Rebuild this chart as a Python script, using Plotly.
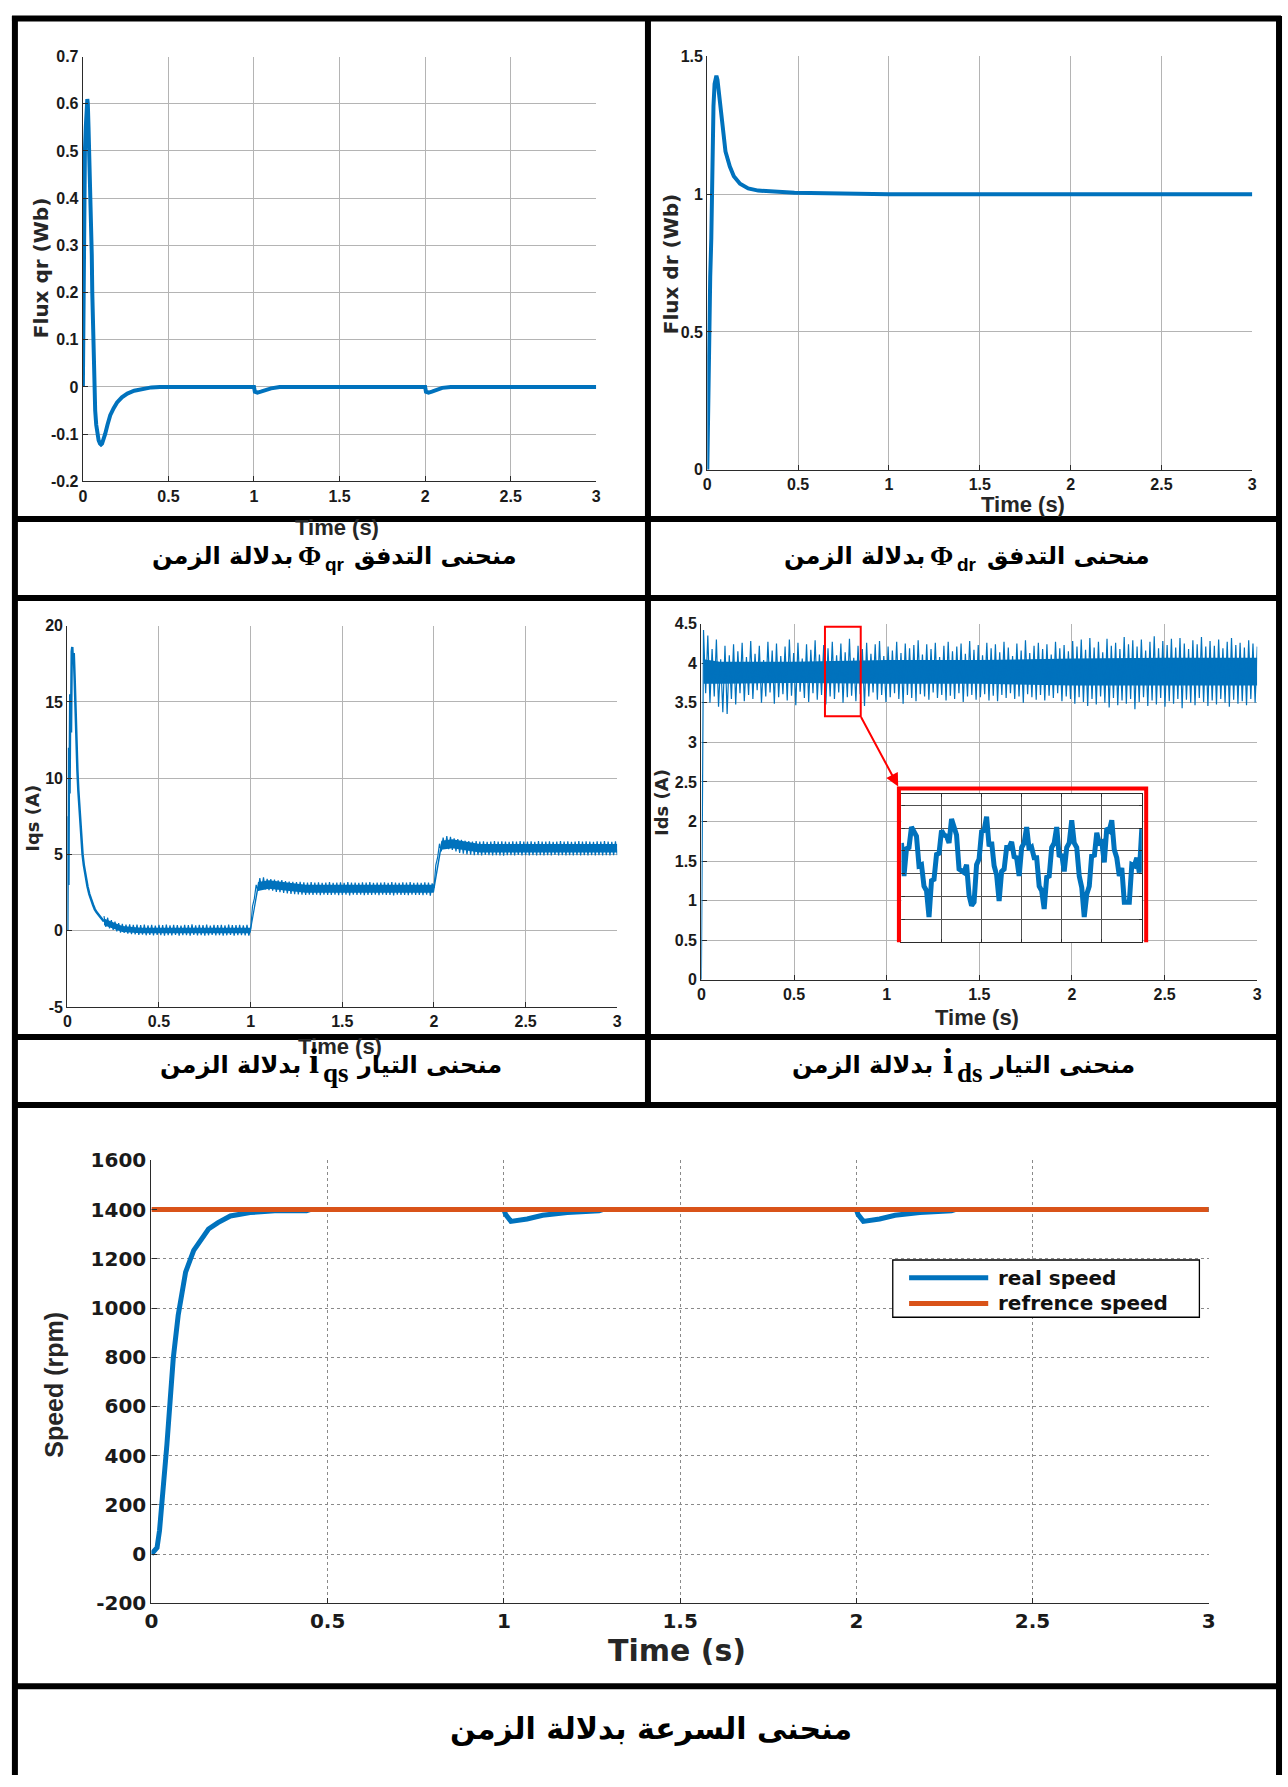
import numpy as np
import plotly.graph_objects as go

W, H = 1288, 1787
BLUE = "#0072BD"
ORANGE = "#D95319"
RED = "#FF0000"
NARROW = "Liberation Sans Narrow, Arial Narrow, Liberation Sans, Arial, sans-serif"
WIDE = "DejaVu Sans, Verdana, sans-serif"
AR = "DejaVu Sans, Noto Sans, sans-serif"
SERIF = "Liberation Serif, Times New Roman, serif"
SANS = "Liberation Sans, Arial, sans-serif"

# ---------------- data ----------------
# tick labels that use a plain hyphen minus, as in the original
fqr_tickvals = [-0.2, -0.1, 0, 0.1, 0.2, 0.3, 0.4, 0.5, 0.6, 0.7]
fqr_ticktext = ["-0.2", "-0.1", "0", "0.1", "0.2", "0.3", "0.4", "0.5", "0.6", "0.7"]
iqs_tickvals = [-5, 0, 5, 10, 15, 20]
iqs_ticktext = ["-5", "0", "5", "10", "15", "20"]
spd_tickvals = [-200, 0, 200, 400, 600, 800, 1000, 1200, 1400, 1600]
spd_ticktext = ["-200", "0", "200", "400", "600", "800", "1000", "1200", "1400", "1600"]

# Flux qr (Wb)
fqr_t = [0, 0.004, 0.007, 0.012, 0.017, 0.022, 0.026, 0.029, 0.033, 0.037, 0.041, 0.045, 0.048,
         0.052, 0.055, 0.059, 0.062, 0.067, 0.072, 0.078, 0.084, 0.092, 0.1, 0.106, 0.112, 0.12,
         0.13, 0.144, 0.16, 0.18, 0.2, 0.228, 0.26, 0.3, 0.35, 0.4, 0.45, 1.0, 1.005, 1.02, 1.04,
         1.07, 1.1, 1.15, 2.0, 2.005, 2.02, 2.04, 2.07, 2.1, 2.15, 3.0]
fqr_v = [0, 0.2, 0.39, 0.5, 0.55, 0.58, 0.61, 0.6, 0.55, 0.5, 0.45, 0.42, 0.36, 0.28, 0.2, 0.12,
         0.05, -0.01, -0.05, -0.08, -0.1, -0.113, -0.12, -0.122, -0.12, -0.112, -0.1, -0.08, -0.06,
         -0.045, -0.033, -0.022, -0.014, -0.008, -0.004, -0.001, 0, 0, -0.01, -0.012, -0.01, -0.006,
         -0.003, 0, 0, -0.01, -0.012, -0.01, -0.005, -0.002, 0, 0]

# Flux dr (Wb)
fdr_t = [0, 0.004, 0.007, 0.011, 0.016, 0.022, 0.027, 0.034, 0.04, 0.05, 0.056, 0.068, 0.079,
         0.09, 0.1, 0.124, 0.146, 0.18, 0.225, 0.28, 0.37, 0.48, 1.0, 1.5, 2.0, 2.5, 3.0]
fdr_v = [0, 0.22, 0.43, 0.55, 0.70, 0.84, 1.09, 1.32, 1.40, 1.43, 1.415, 1.35, 1.28, 1.21, 1.155,
         1.10, 1.065, 1.038, 1.021, 1.013, 1.008, 1.005, 1.0, 1.0, 1.0, 1.0, 1.0]

# Iqs (A): start-up transient
iqs_start_t = [0, 0.003, 0.006, 0.009, 0.012, 0.016, 0.02, 0.024, 0.027, 0.031, 0.035, 0.04,
               0.045, 0.05, 0.055, 0.06, 0.067, 0.075, 0.083, 0.09, 0.1, 0.11, 0.12, 0.13, 0.14,
               0.15, 0.16, 0.18, 0.2]
iqs_start_v = [0, 7.5, 3, 12, 9, 15.5, 13, 18.3, 18.6, 17.5, 18.2, 16.5, 14, 12.2, 10.5, 9.2,
               7.8, 6.3, 5.0, 4.3, 3.5, 2.9, 2.4, 2.0, 1.7, 1.4, 1.2, 0.9, 0.6]
# Iqs (A): ripple samples every 0.01 s from 0.20 s to 3.00 s
iqs_v = [
    0.95, 0.25, 0.85, 0.15, 0.70, 0.05, 0.60, -0.05, 0.50, -0.12,
    0.45, -0.15, 0.40, -0.20, 0.42, -0.22, 0.38, -0.25, 0.40, -0.28,
    0.36, -0.26, 0.40, -0.30, 0.35, -0.28, 0.38, -0.31, 0.34, -0.27,
    0.39, -0.30, 0.36, -0.32, 0.40, -0.29, 0.35, -0.31, 0.38, -0.27,
    0.37, -0.33, 0.34, -0.29, 0.39, -0.30, 0.36, -0.32, 0.41, -0.28,
    0.35, -0.31, 0.38, -0.29, 0.36, -0.33, 0.40, -0.30, 0.34, -0.28,
    0.39, -0.31, 0.36, -0.29, 0.38, -0.32, 0.35, -0.30, 0.40, -0.28,
    0.37, -0.33, 0.36, -0.30, 0.39, -0.29, 0.35, -0.31, 0.38, -0.32,
    0.10, 1.60, 2.10, 3.00, 2.60, 3.45, 2.75, 3.50, 2.70, 3.40,
    2.65, 3.38, 2.62, 3.35, 2.55, 3.30, 2.52, 3.32, 2.48, 3.25,
    2.45, 3.22, 2.42, 3.20, 2.40, 3.18, 2.38, 3.20, 2.36, 3.17,
    2.35, 3.16, 2.37, 3.18, 2.34, 3.15, 2.36, 3.17, 2.33, 3.14,
    2.36, 3.16, 2.34, 3.18, 2.35, 3.13, 2.37, 3.15, 2.33, 3.17,
    2.35, 3.14, 2.36, 3.18, 2.32, 3.15, 2.37, 3.16, 2.34, 3.13,
    2.36, 3.17, 2.33, 3.15, 2.35, 3.18, 2.34, 3.14, 2.37, 3.16,
    2.33, 3.15, 2.36, 3.17, 2.34, 3.13, 2.35, 3.18, 2.32, 3.16,
    2.36, 3.14, 2.34, 3.17, 2.35, 3.15, 2.33, 3.18, 2.36, 3.14,
    2.34, 3.16, 2.35, 3.13, 2.33, 3.17, 2.36, 3.15, 2.30, 3.10,
    2.80, 4.30, 4.80, 5.70, 5.20, 6.10, 5.40, 6.20, 5.35, 6.15,
    5.30, 6.05, 5.20, 6.00, 5.10, 5.95, 5.05, 5.90, 5.00, 5.88,
    4.98, 5.85, 4.95, 5.87, 4.96, 5.84, 4.94, 5.86, 4.97, 5.83,
    4.95, 5.85, 4.93, 5.87, 4.96, 5.84, 4.94, 5.86, 4.92, 5.85,
    4.95, 5.83, 4.96, 5.86, 4.93, 5.84, 4.97, 5.87, 4.94, 5.85,
    4.95, 5.84, 4.93, 5.86, 4.96, 5.83, 4.94, 5.87, 4.95, 5.85,
    4.93, 5.84, 4.96, 5.86, 4.94, 5.83, 4.97, 5.85, 4.93, 5.87,
    4.95, 5.84, 4.94, 5.86, 4.96, 5.83, 4.93, 5.85, 4.95, 5.87,
    4.94, 5.84, 4.96, 5.86, 4.93, 5.85, 4.95, 5.83, 4.94, 5.86,
    4.96, 5.84, 4.93, 5.87, 4.95, 5.85, 4.94, 5.83, 4.96, 5.86,
    4.95,
]
# Iqs (A): dense core of the ripple band
iqs_core_t = [0.2, 0.3, 0.4, 0.995, 1.0, 1.04, 1.1, 1.3, 1.995, 2.0, 2.04, 2.1, 2.25, 3.0]
iqs_core_lo = [0.35, -0.08, -0.17, -0.17, -0.1, 2.6, 2.75, 2.48, 2.48, 2.5, 5.3, 5.4, 5.12, 5.12]
iqs_core_hi = [0.8, 0.3, 0.2, 0.2, 0.3, 3.2, 3.3, 3.02, 3.02, 3.05, 5.9, 6.0, 5.68, 5.68]

# Ids (A): samples evenly spaced over 0..3 s
ids_v = [
    0.00, 4.42, 3.62, 4.35, 3.50, 4.18, 3.58, 4.30, 3.45, 4.05, 3.38, 4.22, 3.36, 4.10, 3.55, 4.24, 3.48, 4.15, 3.62, 4.26,
    3.52, 4.08, 3.60, 4.28, 3.55, 4.12, 3.66, 4.22, 3.50, 4.04, 3.58, 4.27, 3.63, 4.16, 3.49, 4.25, 3.57, 4.09, 3.61, 4.21,
    3.53, 4.30, 3.59, 4.13, 3.47, 4.26, 3.64, 4.06, 3.56, 4.24, 3.51, 4.17, 3.62, 4.29, 3.54, 4.11, 3.60, 4.23, 3.48, 4.19,
    3.58, 4.27, 3.55, 4.10, 3.63, 4.25, 3.50, 4.14, 3.57, 4.31, 3.59, 4.07, 3.52, 4.22, 3.61, 4.18, 3.46, 4.26, 3.58, 4.12,
    3.63, 4.24, 3.54, 4.28, 3.60, 4.09, 3.51, 4.21, 3.57, 4.16, 3.62, 4.27, 3.55, 4.13, 3.49, 4.25, 3.60, 4.19, 3.56, 4.23,
    3.52, 4.29, 3.61, 4.11, 3.58, 4.24, 3.54, 4.18, 3.63, 4.26, 3.56, 4.08, 3.60, 4.22, 3.53, 4.27, 3.59, 4.15, 3.55, 4.21,
    3.62, 4.25, 3.51, 4.12, 3.58, 4.28, 3.60, 4.17, 3.54, 4.23, 3.57, 4.10, 3.61, 4.26, 3.53, 4.19, 3.59, 4.24, 3.52, 4.14,
    3.60, 4.27, 3.56, 4.20, 3.62, 4.09, 3.55, 4.25, 3.58, 4.16, 3.50, 4.29, 3.61, 4.13, 3.57, 4.22, 3.54, 4.26, 3.60, 4.18,
    3.53, 4.24, 3.59, 4.11, 3.56, 4.27, 3.62, 4.19, 3.52, 4.23, 3.58, 4.15, 3.55, 4.28, 3.49, 4.21, 3.57, 4.30, 3.51, 4.17,
    3.46, 4.32, 3.55, 4.20, 3.48, 4.27, 3.58, 4.14, 3.50, 4.31, 3.44, 4.22, 3.56, 4.26, 3.47, 4.18, 3.53, 4.33, 3.49, 4.24,
    3.55, 4.29, 3.42, 4.21, 3.51, 4.30, 3.57, 4.16, 3.46, 4.27, 3.53, 4.34, 3.48, 4.19, 3.56, 4.28, 3.45, 4.23, 3.52, 4.31,
    3.49, 4.20, 3.55, 4.32, 3.43, 4.25, 3.54, 4.18, 3.50, 4.29, 3.47, 4.24, 3.56, 4.33, 3.51, 4.21, 3.46, 4.28, 3.53, 4.22,
    3.48, 4.30, 3.55, 4.19, 3.50, 4.27, 3.45, 4.32, 3.54, 4.23, 3.49, 4.26, 3.52, 4.20, 3.47, 4.29, 3.55, 4.25, 3.50, 4.21,
]
# Ids (A): dense core of the band
ids_core_t = [0.012, 0.1, 0.5, 1.0, 1.5, 2.0, 2.5, 3.0]
ids_core_lo = [3.74, 3.74, 3.75, 3.74, 3.74, 3.72, 3.72, 3.72]
ids_core_hi = [4.05, 4.02, 4.02, 4.04, 4.04, 4.06, 4.07, 4.07]

# Ids zoom (inset), evenly spaced over 0.70..0.82 s
ids_zoom_v = [
    4.27, 3.98, 4.22, 4.23, 4.41, 4.37, 4.33, 4.07, 4.08, 3.89, 3.85, 3.62, 3.94, 3.95, 4.17, 4.18,
    4.38, 4.34, 4.33, 4.27, 4.48, 4.41, 4.34, 4.04, 4.02, 4.01, 4.08, 3.81, 3.72, 3.75, 4.08, 4.13,
    4.37, 4.38, 4.50, 4.24, 4.28, 4.07, 3.99, 3.76, 4.02, 4.04, 4.23, 4.23, 4.28, 4.15, 4.14, 3.98,
    4.23, 4.27, 4.41, 4.21, 4.23, 4.14, 4.14, 3.89, 3.85, 3.69, 3.97, 3.98, 4.23, 4.27, 4.41, 4.15,
    4.17, 4.02, 4.23, 4.27, 4.47, 4.27, 4.23, 3.98, 3.88, 3.62, 3.82, 3.89, 4.17, 4.15, 4.36, 4.27,
    4.28, 4.10, 4.40, 4.38, 4.47, 4.21, 4.14, 3.98, 4.05, 3.75, 3.75, 3.75, 4.08, 4.07, 4.14, 4.01,
    4.40,
]

# Speed (rpm)
spd_t = [0, 0.016, 0.023, 0.035, 0.044, 0.053, 0.062, 0.076, 0.085, 0.097, 0.12, 0.143, 0.162,
         0.189, 0.224, 0.28, 0.35, 0.44, 0.45, 1.0, 1.005, 1.02, 1.04, 1.066, 1.11, 1.18, 1.27,
         1.28, 2.0, 2.005, 2.02, 2.04, 2.066, 2.11, 2.18, 2.27, 2.28, 3.0]
spd_v = [0, 26, 96, 271, 446, 621, 796, 971, 1059, 1146, 1234, 1286, 1321, 1347, 1374, 1388,
         1395, 1395, 1400, 1400, 1380, 1352, 1355, 1362, 1377, 1388, 1395, 1400, 1400, 1380, 1352,
         1355, 1362, 1377, 1388, 1395, 1400, 1400]
ref_t = [0, 3]
ref_v = [1400, 1400]

# derived sampling grids
iqs_t = np.linspace(0.20, 3.00, len(iqs_v))
ids_t = np.linspace(0.0, 3.0, len(ids_v))
zoom_t = np.linspace(0.70, 0.82, len(ids_zoom_v))


def px(p):
    return p / W


def py(p):
    return 1 - p / H


def axis(dom, rng, dtick, anchor, fam, size, tick0=0, dash="solid", gcol="#b4b4b4",
         labels=True, layer="above traces"):
    return dict(domain=dom, range=rng, dtick=dtick, tick0=tick0, anchor=anchor,
                showgrid=True, gridcolor=gcol, gridwidth=1, griddash=dash, zeroline=False,
                showline=True, linecolor="#2b2b2b", linewidth=1.3, ticks="inside", ticklen=5,
                tickwidth=1.2, tickcolor="#2b2b2b", showticklabels=labels, layer=layer,
                tickfont=dict(family=fam, size=size, color="#1a1a1a", weight="bold"),
                fixedrange=True)


fig = go.Figure()


def line_trace(x, y, xa, ya, color, width, name=None):
    fig.add_trace(go.Scatter(x=x, y=y, mode="lines", xaxis=xa, yaxis=ya, name=name,
                             line=dict(color=color, width=width), showlegend=False,
                             hoverinfo="skip"))


def band(x, lo, hi, xa, ya, color):
    fig.add_trace(go.Scatter(x=x, y=lo, mode="lines", xaxis=xa, yaxis=ya, line=dict(width=0),
                             showlegend=False, hoverinfo="skip"))
    fig.add_trace(go.Scatter(x=x, y=hi, mode="lines", xaxis=xa, yaxis=ya, line=dict(width=0),
                             fill="tonexty", fillcolor=color, showlegend=False,
                             hoverinfo="skip"))


line_trace(fqr_t, fqr_v, "x", "y", BLUE, 4)
line_trace(fdr_t, fdr_v, "x2", "y2", BLUE, 4)
band(iqs_core_t, iqs_core_lo, iqs_core_hi, "x3", "y3", BLUE)
line_trace(iqs_t, iqs_v, "x3", "y3", BLUE, 1.2)
line_trace(iqs_start_t, iqs_start_v, "x3", "y3", BLUE, 2.5)
band(ids_core_t, ids_core_lo, ids_core_hi, "x4", "y4", BLUE)
line_trace(ids_t, ids_v, "x4", "y4", BLUE, 1.2)
line_trace(spd_t, spd_v, "x5", "y5", BLUE, 5, "real speed")
line_trace(ref_t, ref_v, "x5", "y5", ORANGE, 5, "refrence speed")
line_trace(zoom_t, ids_zoom_v, "x6", "y6", BLUE, 5)

layout = dict(
    width=W, height=H, margin=dict(l=0, r=0, t=0, b=0), autosize=False,
    paper_bgcolor="white", plot_bgcolor="white", showlegend=False,
    xaxis=axis([px(76.7), px(595.7)], [0, 3], 0.5, "y", NARROW, 16),
    yaxis=axis([py(475.7), py(45.2)], [-0.2, 0.7], 0.1, "x", NARROW, 16),
    xaxis2=axis([px(708), px(1259)], [0, 3], 0.5, "y2", NARROW, 16),
    yaxis2=axis([py(464), py(45)], [0, 1.5], 0.5, "x2", NARROW, 16),
    xaxis3=axis([px(61), px(617)], [0, 3], 0.5, "y3", NARROW, 16),
    yaxis3=axis([py(1008.5), py(622)], [-5, 20], 5, "x3", NARROW, 16),
    xaxis4=axis([px(702), px(1264)], [0, 3], 0.5, "y4", NARROW, 16, layer="below traces"),
    yaxis4=axis([py(981), py(620)], [0, 4.5], 0.5, "x4", NARROW, 16, layer="below traces"),
    xaxis5=axis([px(146), px(1215)], [0, 3], 0.5, "y5", WIDE, 20, dash="dot", gcol="#8a8a8a"),
    yaxis5=axis([py(1613), py(1164)], [-200, 1600], 200, "x5", WIDE, 20, dash="dot", gcol="#8a8a8a"),
    xaxis6=axis([px(904.3), px(1147.3)], [0.70, 0.82], 0.02, "y6", NARROW, 10, tick0=0.70,
                gcol="#505050", labels=False),
    yaxis6=axis([py(942.7), py(792.7)], [3.4, 4.7], 0.2, "x6", NARROW, 10, tick0=3.4,
                gcol="#505050", labels=False),
)
layout["yaxis"].update(tickmode="array", tickvals=fqr_tickvals, ticktext=fqr_ticktext)
layout["yaxis3"].update(tickmode="array", tickvals=iqs_tickvals, ticktext=iqs_ticktext)
layout["yaxis5"].update(tickmode="array", tickvals=spd_tickvals, ticktext=spd_ticktext)
layout["xaxis6"].update(mirror="ticks", ticklen=3)
layout["yaxis6"].update(mirror="ticks", ticklen=3)
fig.update_layout(**layout)

annotations = []


def text(t, x, y, size, fam, angle=0, xanchor="center", color="#262626"):
    annotations.append(dict(text=t, x=px(x), y=py(y), xref="paper", yref="paper",
                            showarrow=False, textangle=angle, xanchor=xanchor, yanchor="middle",
                            font=dict(family=fam, size=size, color=color, weight="bold")))


# axis titles
text("Flux qr (Wb)", 34, 260, 20, WIDE, -90)
text("Time (s)", 334, 523, 22, NARROW)
text("Flux dr (Wb)", 671, 256, 20, WIDE, -90)
text("Time (s)", 1027, 499, 22, NARROW)
text("Iqs (A)", 25, 817, 18, WIDE, -90)
text("Time (s)", 337, 1049, 22, NARROW)
text("Ids (A)", 661, 801, 18, WIDE, -90)
text("Time (s)", 981, 1019, 22, NARROW)
text("Speed (rpm)", 48, 1391, 25, NARROW, -90)
text("Time (s)", 677, 1661, 30, WIDE)

# legend (speed chart)
text("real speed", 1000, 1283, 20, WIDE, xanchor="left", color="#111")
text("refrence speed", 1000, 1309, 20, WIDE, xanchor="left", color="#111")

# captions
CAP = 24
text("منحنى التدفق", 518, 551, CAP, AR, xanchor="right", color="black")
text("Φ", 319, 551, 28, SERIF, xanchor="right", color="black")
text("qr", 319, 560, 19, SANS, xanchor="left", color="black")
text("بدلالة الزمن", 291, 551, CAP, AR, xanchor="right", color="black")

text("منحنى التدفق", 1158, 551, CAP, AR, xanchor="right", color="black")
text("Φ", 958, 551, 28, SERIF, xanchor="right", color="black")
text("dr", 958, 560, 19, SANS, xanchor="left", color="black")
text("بدلالة الزمن", 930, 551, CAP, AR, xanchor="right", color="black")

text("منحنى التيار", 502, 1067, CAP, AR, xanchor="right", color="black")
text("i", 317, 1063, 36, SERIF, xanchor="right", color="black")
text("qs", 317, 1075, 27, SERIF, xanchor="left", color="black")
text("بدلالة الزمن", 299, 1067, CAP, AR, xanchor="right", color="black")

text("منحنى التيار", 1142, 1067, CAP, AR, xanchor="right", color="black")
text("i", 958, 1063, 36, SERIF, xanchor="right", color="black")
text("ds", 958, 1075, 27, SERIF, xanchor="left", color="black")
text("بدلالة الزمن", 938, 1067, CAP, AR, xanchor="right", color="black")

text("منحنى السرعة بدلالة الزمن", 651, 1740, 30, AR, color="black")

# red arrow to inset
annotations.append(dict(x=px(901), y=py(785), xref="paper", yref="paper", text="",
                        showarrow=True, ax=-38, ay=-71, axref="pixel", ayref="pixel",
                        arrowhead=2, arrowsize=1.3, arrowwidth=2, arrowcolor=RED, standoff=0))
fig.update_layout(annotations=annotations)

shapes = []
# frame lines
frame = [(5, 6.5, 1288, 6.5), (8, 4, 8, 1787), (1286, 4, 1286, 1787), (648, 6, 648, 1108),
         (8, 514, 1287, 514), (8, 594, 1287, 594), (8, 1039, 1287, 1039),
         (8, 1108, 1287, 1108), (8, 1697, 1287, 1697)]
for x0, y0, x1, y1 in frame:
    shapes.append(dict(type="line", xref="paper", yref="paper", x0=px(x0), y0=py(y0),
                       x1=px(x1), y1=py(y1), line=dict(color="black", width=6), layer="above"))
# small zoom window in ids plot
shapes.append(dict(type="rect", xref="x4", yref="y4", x0=0.667, x1=0.86, y0=3.33, y1=4.46,
                   line=dict(color=RED, width=2), layer="above"))
# red bracket around inset
bx0, bx1, by0, by1 = px(901.7), px(1151.7), py(943), py(787)
shapes.append(dict(type="path", xref="paper", yref="paper",
                   path=f"M{bx0},{by0} L{bx0},{by1} L{bx1},{by1} L{bx1},{by0}",
                   line=dict(color=RED, width=4), layer="above"))
# legend box and samples
shapes.append(dict(type="rect", xref="paper", yref="paper", x0=px(895.5), x1=px(1205.5),
                   y0=py(1323), y1=py(1265), line=dict(color="black", width=1.3),
                   fillcolor="white", layer="above"))
shapes.append(dict(type="line", xref="paper", yref="paper", x0=px(912), x1=px(992),
                   y0=py(1283), y1=py(1283), line=dict(color=BLUE, width=5), layer="above"))
shapes.append(dict(type="line", xref="paper", yref="paper", x0=px(912), x1=px(992),
                   y0=py(1309), y1=py(1309), line=dict(color=ORANGE, width=5), layer="above"))
fig.update_layout(shapes=shapes)

fig.write_html("out.html")
